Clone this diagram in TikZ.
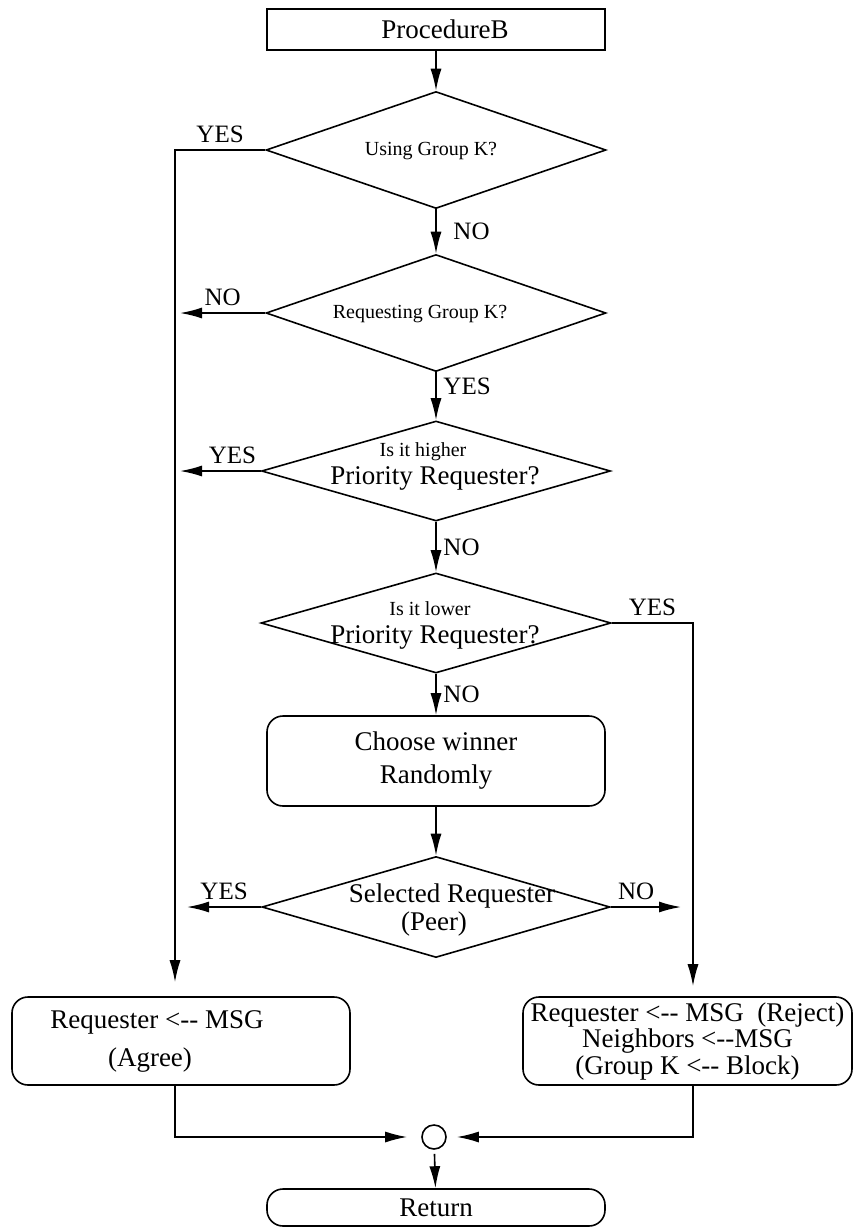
\documentclass[tikz,border=0pt]{standalone}
\usepackage{fontspec}
\setmainfont{Liberation Serif}
\usetikzlibrary{arrows.meta, positioning, shapes.geometric}

\newcommand{\msgarrow}{<-\kern0pt-}

\begin{document}
\begin{tikzpicture}[x=0.5pt, y=-0.5pt,
        box/.style={rectangle, draw, line width=0.8pt, inner sep=2pt, align=center, minimum width=169pt, font=\fontsize{13.5}{16}\selectfont},
        roundbox/.style={box, rounded corners=8pt},
        decision/.style={diamond, draw, line width=0.8pt, inner sep=0pt},
        qtext/.style={align=center, inner sep=0pt, font=\fontsize{13.5}{14}\selectfont},
        qsmall/.style={qtext, font=\fontsize{10}{12}\selectfont},
        answer/.style={font=\fontsize{12.5}{14}\selectfont},
        arrow/.style={-{Latex[length=11pt, width=5.5pt]}, line width=0.8pt}
    ]
    \useasboundingbox (0,0) rectangle (854,1228);

    % boxes
    \node[box, minimum height=20.5pt] (start) at (436,29.5) {\hspace*{9pt}ProcedureB};
    \node[roundbox, minimum height=45pt, font=\fontsize{13.5}{16.5}\selectfont] (choose) at (436,761) {Choose winner\\Randomly};
    \node[roundbox, minimum height=44pt, font=\fontsize{13.5}{19}\selectfont] (agree) at (181,1041)
        {Requester \msgarrow{} MSG\hspace*{24pt}\\(Agree)\hspace*{31pt}};
    \node[roundbox, minimum width=164.5pt, minimum height=44pt, font=\fontsize{13.5}{13.25}\selectfont] (reject) at (687.5,1041)
        {Requester \msgarrow{} MSG~ (Reject)\\Neighbors \msgarrow MSG\hspace*{21pt}\\(Group K \msgarrow{} Block)};
    \node[roundbox, minimum height=18.5pt] (ret) at (436,1207.5) {Return};
    \node[circle, draw, line width=0.8pt, minimum size=12pt, inner sep=0pt] (merge) at (434,1137) {};

    % decisions
    \node[decision, minimum width=170pt, minimum height=58.5pt] (q1) at (436,150) {};
    \node[decision, minimum width=170pt, minimum height=58.5pt] (q2) at (436,313) {};
    \node[decision, minimum width=174.5pt, minimum height=50pt] (q3) at (436,471) {};
    \node[decision, minimum width=175pt, minimum height=50pt] (q4) at (436,623) {};
    \node[decision, minimum width=174pt, minimum height=50.5pt] (q5) at (436,907) {};

    \node[qsmall] (q1t) at (431,151) {Using Group K?};
    \node[qsmall] (q2t) at (420,314) {Requesting Group K?};
    \node[qtext] (q3t) at (435,466) {{\fontsize{10}{14}\selectfont Is it higher}\hspace*{12pt}\\Priority Requester?};
    \node[qtext] (q4t) at (435,625) {{\fontsize{10}{14}\selectfont Is it lower}\hspace*{5pt}\\Priority Requester?};
    \node[qtext] (q5t) at (434,910) {\hspace*{18pt}Selected Requester\\(Peer)};

    % free ends
    \coordinate (lcol) at (175,0);
    \coordinate (rcol) at (693,0);
    \coordinate (q2no) at (180,313);
    \coordinate (q3yes) at (180,471);
    \coordinate (q5yes) at (187,907);
    \coordinate (q5no) at (681,907);

    % connectors
    \draw[arrow] (start) -- (q1);
    \draw[arrow, shorten >=7pt] (q1.west) -| node[pos=0.25, above, answer] (l1) {YES} (lcol |- agree.north);
    \draw[arrow] (q1) -- node[right, answer, xshift=5pt] (l2) {NO} (q2);
    \draw[arrow] (q2.west) -- node[above, answer] (l3) {NO} (q2no);
    \draw[arrow] (q2) -- node[pos=0.3, right, answer] (l4) {YES} (q3);
    \draw[arrow] (q3.west) -- node[pos=0.35, above, answer] (l5) {YES} (q3yes);
    \draw[arrow] (q3) -- node[right, answer] (l6) {NO} (q4);
    \draw[arrow, shorten >=5pt] (q4.east) -| node[pos=0.25, above, answer] (l7) {YES} (rcol |- reject.north);
    \draw[arrow] (q4) -- node[right, answer] (l8) {NO} (choose);
    \draw[arrow] (choose) -- (q5);
    \draw[arrow] (q5.west) -- node[above, answer] (l9) {YES} (q5yes);
    \draw[arrow] (q5.east) -- node[pos=0.36, above, answer] (l10) {NO} (q5no);
    \draw[arrow, shorten >=7pt] (lcol |- agree.south) |- (merge);
    \draw[arrow, shorten >=5pt] (rcol |- reject.south) |- (merge);
    \draw[arrow, shorten <=2pt] (merge) -- (ret);
\end{tikzpicture}
\end{document}
